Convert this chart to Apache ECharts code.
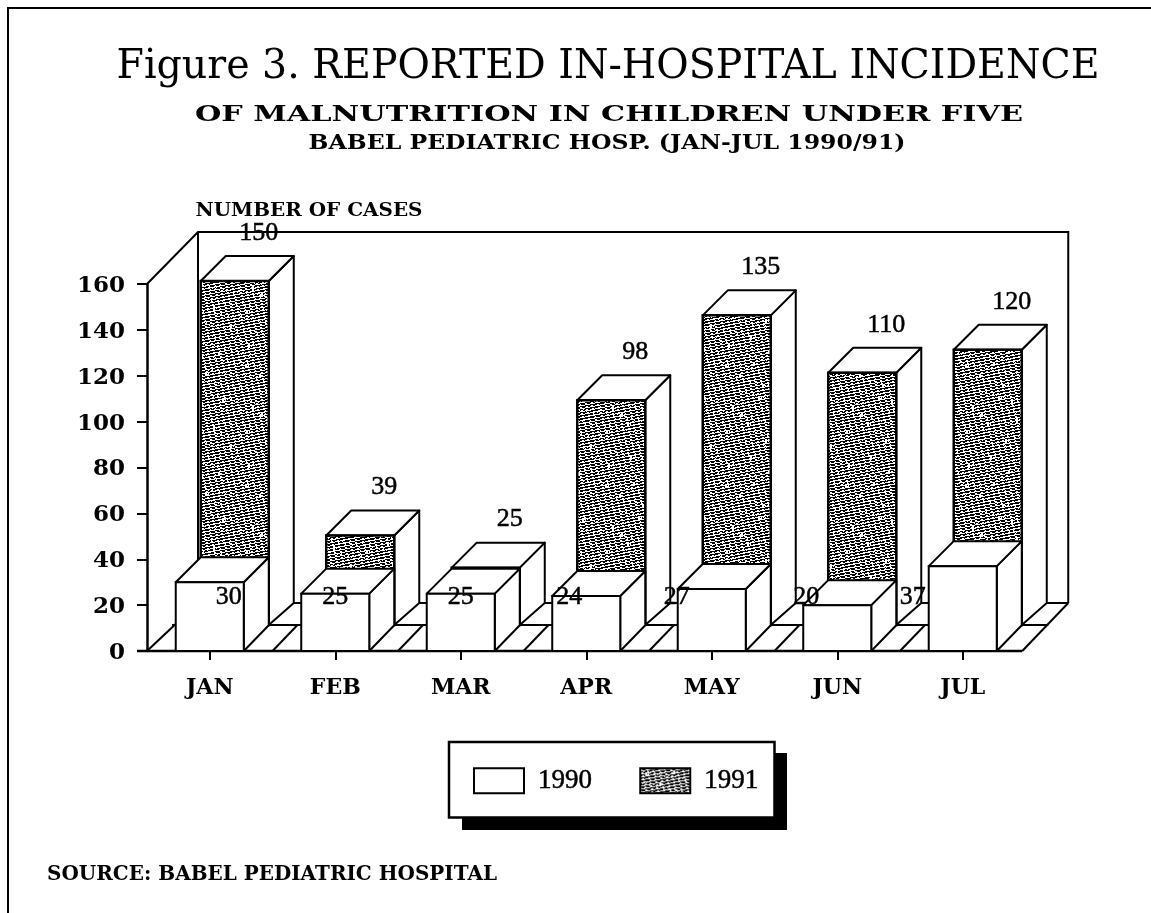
<!DOCTYPE html>
<html><head><meta charset="utf-8">
<style>html,body{margin:0;padding:0;background:#fff}#c{width:1151px;height:913px}</style>
<script src="https://cdn.jsdelivr.net/npm/echarts@6/dist/echarts.min.js"></script>
</head><body><div id="c"></div>
<script>
const months = ['JAN','FEB','MAR','APR','MAY','JUN','JUL'];
const cases1990 = [30,25,25,24,27,20,37];
const cases1991 = [150,39,25,98,135,110,120];
const yTicks = [0,160,20];
const titleLine1 = 'Figure 3. REPORTED IN-HOSPITAL INCIDENCE';
const titleLine2 = 'OF MALNUTRITION IN CHILDREN UNDER FIVE';
const titleLine3 = 'BABEL PEDIATRIC HOSP. (JAN-JUL 1990/91)';
const yAxisName = 'NUMBER OF CASES';
const sourceNote = 'SOURCE: BABEL PEDIATRIC HOSPITAL';
// horizontal shift of the 1990 value labels from their month tick, as hand-placed in the original
const label1990Shift = [19,0,0,-17,-35,-31,-50];

// fixed bitmap hatch: shallow rising stripes with white flecks
function makeHatch(){
  const n=120,c=document.createElement('canvas');c.width=n;c.height=n;
  const g=c.getContext('2d');g.fillStyle='#fff';g.fillRect(0,0,n,n);g.fillStyle='#000';
  for(let x=0;x<n;x++){
    const s=Math.floor(x/5);
    for(let r=0;r<n;r+=3){
      const y=(r-s+n)%n;
      if((x*7+r*3)%29>1) g.fillRect(x,y,1,1);
      if((x*3+r*5)%17>5) g.fillRect(x,(y+1)%n,1,1);
    }
  }
  g.fillStyle='#fff';
  const flecks=[[5,4],[19,14],[33,2],[42,24],[12,46],[27,62],[38,36],[6,70],[21,53],[45,79],[63,9],[51,41],[56,58],[60,92],[8,104],[30,96],[48,110],[66,30],[85,12],[102,38],[93,66],[110,84],[78,100],[98,112],[72,52]];
  flecks.forEach(([a,b])=>{g.fillRect(a,b,2,4);g.fillRect(a+3,b+1,1,2);});
  return c;
}
const hatch={image:makeHatch(),repeat:'repeat'};

const meas=document.createElement('canvas').getContext('2d');
function fitText(text,font,cx,base,w){
  meas.font=font;
  const sx=w/meas.measureText(text).width;
  return {type:'text',x:cx,y:base,scaleX:sx,silent:true,z:50,
    style:{text,font,fill:'#000',align:'center',verticalAlign:'bottom'}};
}
const serif='"DejaVu Serif"';
const numFont='26px "Liberation Serif"';

function line(pts,w){return {type:'polyline',shape:{points:pts},style:{fill:null,stroke:'#000',lineWidth:w||2}};}

function renderFrame(params,api){
  const p0=api.coord([0,0]), top=api.coord([0,160])[1], floor=p0[1];
  const step=api.size([1,0])[0];
  const left=p0[0]-step/2, right=api.coord([6,0])[0]+59.5;
  const wl=left+51, wr=right+46, wb=floor-48, wt=top-52, mid=floor-26;
  const ch=[
    line([[left,top],[wl,wt],[wr,wt],[wr,wb]]),
    line([[wl,wt],[wl,wb],[wr,wb]]),
    line([[left,floor],[wl,wb]]),
    line([[left+25,mid],[right+26,mid]]),
    line([[right,floor],[wr,wb]]),
    line([[left-10,floor],[right,floor]],2.5)
  ];
  for(let i=1;i<months.length;i++){
    const bx=left+i*step;
    ch.push(line([[bx,floor],[bx+25,mid]]));
  }
  return {type:'group',children:ch};
}

function makeBox(dx,dy,topDy,baseDy,fill,frontW,labelFn){
  return function(params,api){
    const i=api.value(0), v=api.value(1);
    const p=api.coord([i,v]), b=api.coord([i,0]);
    const w=api.size([1,0])[0]*0.542, d=25;
    const l=p[0]-w/2+dx, r=p[0]+w/2+dx, t=p[1]+dy, y0=b[1]+dy;
    const ch=[
      {type:'polygon',shape:{points:[[r,t],[r+d,t-topDy],[r+d,y0-baseDy],[r,y0]]},style:{fill:'#fff',stroke:'#000',lineWidth:2,lineJoin:'round'}},
      {type:'polygon',shape:{points:[[l,t],[l+d,t-topDy],[r+d,t-topDy],[r,t]]},style:{fill:'#fff',stroke:'#000',lineWidth:2,lineJoin:'round'}},
      {type:'rect',shape:{x:l,y:t,width:r-l,height:y0-t},style:{fill,stroke:'#000',lineWidth:frontW}}
    ];
    const lp=labelFn(i,p,t);
    ch.push({type:'text',x:lp[0],y:lp[1],z2:100,style:{text:String(v),font:numFont,fill:'#000',stroke:'#000',lineWidth:0.5,align:'center',verticalAlign:'middle'}});
    return {type:'group',children:ch};
  };
}
const chart=echarts.init(document.getElementById('c'),null,{renderer:'canvas'});
const toPairs=a=>a.map((v,i)=>[i,v]);
chart.setOption({
  animation:false,
  backgroundColor:'#fff',
  grid:{left:147,top:284,width:878.5,height:367,containLabel:false},
  xAxis:{type:'category',data:months,boundaryGap:true,
    axisLine:{show:false},
    axisTick:{show:true,alignWithLabel:true,length:9,lineStyle:{color:'#000',width:2}},
    axisLabel:{color:'#000',fontFamily:'DejaVu Serif',fontWeight:'bold',fontSize:22,margin:26}},
  yAxis:{type:'value',min:yTicks[0],max:yTicks[1],interval:yTicks[2],
    splitLine:{show:false},
    axisLine:{show:true,lineStyle:{color:'#000',width:2.5}},
    axisTick:{show:true,length:10,lineStyle:{color:'#000',width:2}},
    axisLabel:{color:'#000',margin:22,formatter:'{n|{value}}',
      rich:{n:{fontFamily:'DejaVu Serif',fontWeight:'bold',fontSize:23,color:'#000',padding:[4,0,0,0]}}}},
  legend:{left:449,top:742,orient:'horizontal',
    data:[{name:'1990',icon:'rect',itemStyle:{color:'#fff',borderColor:'#000',borderWidth:2}},
          {name:'1991',icon:'rect',itemStyle:{color:hatch,borderColor:'#000',borderWidth:2}}],
    itemWidth:50,itemHeight:25,itemGap:47,padding:[25,16,23,24],
    selectedMode:false,
    backgroundColor:'#fff',borderColor:'#000',borderWidth:2.5,
    textStyle:{color:'#000',fontFamily:'Liberation Serif',fontSize:27,padding:[0,0,0,9],textBorderColor:'#000',textBorderWidth:0.5}},
  series:[
    {type:'custom',name:'frame',data:[[0,0]],renderItem:renderFrame,silent:true,clip:false,z:1},
    {type:'custom',name:'1991',data:toPairs(cases1991),clip:false,z:2,silent:true,
      encode:{x:0,y:1},itemStyle:{color:hatch,borderColor:'#000',borderWidth:2},
      renderItem:makeBox(25,-26,25,22,hatch,2.5,(i,p,t)=>[p[0]+49,t-48])},
    {type:'custom',name:'1990',data:toPairs(cases1990),clip:false,z:3,silent:true,
      encode:{x:0,y:1},itemStyle:{color:'#fff',borderColor:'#000',borderWidth:2},
      renderItem:makeBox(0,0,25,25.7,'#fff',2,(i,p,t)=>[p[0]+label1990Shift[i],597])}
  ],
  graphic:[
    {type:'polyline',silent:true,z:0,shape:{points:[[8,913],[8,8],[1151,8]]},style:{fill:null,stroke:'#000',lineWidth:2}},
    {type:'rect',silent:true,z:0,shape:{x:462,y:753,width:325,height:77},style:{fill:'#000',stroke:null}},
    fitText(titleLine1,'41px '+serif,608,88,983),
    fitText(titleLine2,'bold 22px '+serif,609,126,828),
    fitText(titleLine3,'bold 20px '+serif,607,154,597),
    fitText(yAxisName,'bold 19px '+serif,309,221,227),
    fitText(sourceNote,'bold 20px '+serif,272,885,450)
  ]
});
</script></body></html>
